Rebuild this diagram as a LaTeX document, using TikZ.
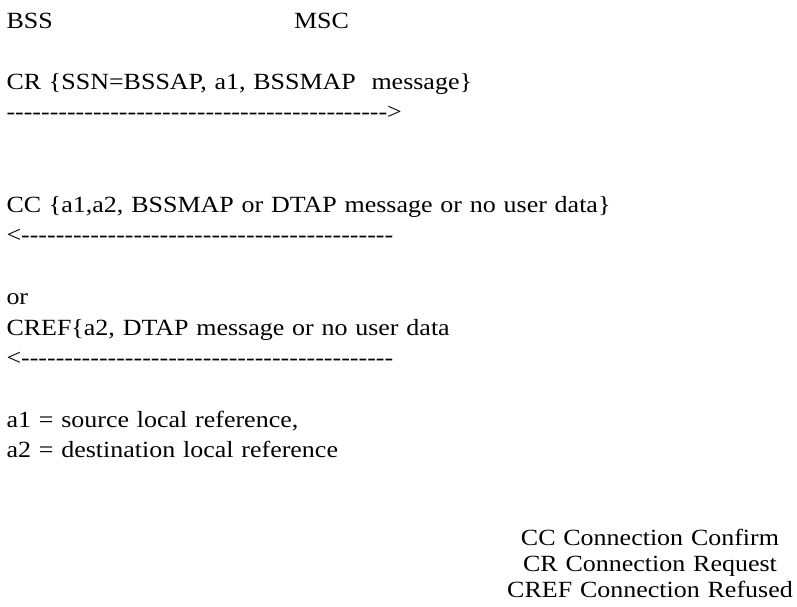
\documentclass[tikz,border=0pt]{standalone}
\usepackage{fontspec}
\setmainfont{Liberation Serif}[FakeStretch=1.12,WordSpace=1.2]
\newcommand\hyrow[1]{\foreach \k in {1,...,#1}{-\kern0pt}}
\begin{document}
\begin{tikzpicture}[x=1pt,y=-1pt,
  txt/.style={anchor=base west,inner sep=0pt,outer sep=0pt,font=\fontsize{23.2}{22.5}\selectfont},
  ctxt/.style={anchor=base,inner sep=0pt,outer sep=0pt,font=\fontsize{23.2}{22.5}\selectfont}]
\useasboundingbox (0,0) rectangle (797,606);
\node[txt] (bss) at (6.5,28) {BSS};
\node[txt] (msc) at (294,28) {MSC};
\node[txt] (cr) at (6.5,89) {CR \{SSN=BSSAP, a1, BSSMAP\ \ message\}};
\node[txt] (arr1) at (6.5,119) {\hyrow{44}>};
\node[txt] (cc) at (6.5,212) {CC \{a1,a2, BSSMAP or DTAP message or no user data\}};
\node[txt] (arr2) at (6.5,242) {<\hyrow{43}};
\node[txt] (or) at (6.5,304) {or};
\node[txt] (cref) at (6.5,335) {CREF\{a2, DTAP message or no user data};
\node[txt] (arr3) at (6.5,365) {<\hyrow{43}};
\node[txt] (a1) at (6.5,427) {a1 = source local reference,};
\node[txt] (a2) at (6.5,457) {a2 = destination local reference};
\node[ctxt] (l1) at (650,545) {CC Connection Confirm};
\node[ctxt] (l2) at (650,571) {CR Connection Request};
\node[ctxt] (l3) at (650,597) {CREF Connection Refused};
\end{tikzpicture}
\end{document}
